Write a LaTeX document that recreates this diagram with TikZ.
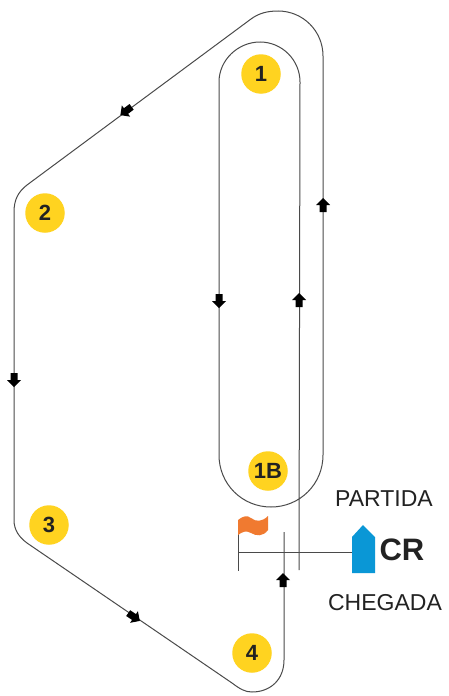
\documentclass[tikz,border=0pt]{standalone}
\usepackage{fontspec}
\setmainfont{Liberation Sans}
\definecolor{markyellow}{HTML}{FFD320}
\definecolor{flagorange}{HTML}{F07A30}
\definecolor{boatblue}{HTML}{0A97D6}
\definecolor{linegray}{HTML}{4A4A4A}
\definecolor{inktext}{HTML}{222222}
\tikzset{
  buoy/.style={circle,fill=markyellow,minimum size=39.5pt,inner sep=0pt,text=inktext,font=\fontsize{22}{22}\selectfont\bfseries},
  course/.style={draw=linegray,line width=1pt},
  label/.style={text=inktext,inner sep=0pt,font=\fontsize{23}{23}\selectfont},
  arrowmark/.pic={\fill[black] (0,-7)--(7,0)--(3.5,0)--(3.5,7)--(-3.5,7)--(-3.5,0)--(-7,0)--cycle;}
}
\begin{document}
\begin{tikzpicture}[x=1pt,y=-1pt]
\useasboundingbox[fill=white] (0,0) rectangle (448,696);
% course
\draw[course] (284,532) -- (284,660) .. controls (284,680) and (270,692) .. (252,692)
  .. controls (245,692) and (240,689) .. (232,683) -- (27,543)
  .. controls (19,537) and (14,530) .. (14,520) -- (14,212)
  .. controls (14,200) and (18,192) .. (27,185) -- (251,19)
  .. controls (259,13) and (268,11) .. (278,11)
  .. controls (303,11) and (323,31) .. (323,56) -- (323,455)
  .. controls (323,484) and (300,507) .. (271,507)
  .. controls (242,507) and (219,484) .. (219,455) -- (219,82)
  .. controls (219,60) and (238,42) .. (260,42)
  .. controls (282,42) and (300,60) .. (300,82) -- (299,570);
% start line
\draw[course] (238,527) -- (238,571);
\draw[course] (238,552) -- (352,552);
% flag
\fill[flagorange] (238,520) .. controls (243,516) and (247,515) .. (251,518)
  .. controls (256,522) and (262,522) .. (268,516)
  -- (268,530) .. controls (263,537) and (256,536) .. (251,533)
  .. controls (246,530) and (242,532) .. (238,535) -- cycle;
% committee boat
\fill[boatblue] (352,537) -- (363,525) -- (375,537) -- (375,573) -- (352,573) -- cycle;
% arrows
\pic[rotate=126.5] at (126,111) {arrowmark};
\pic[rotate=180] at (219,301) {arrowmark};
\pic at (299,300) {arrowmark};
\pic at (323,205) {arrowmark};
\pic[rotate=180] at (14,380) {arrowmark};
\pic[rotate=-124] at (134,617) {arrowmark};
\pic at (283,580) {arrowmark};
% buoys
\node[buoy] (b1) at (261,74) {1};
\node[buoy] (b2) at (45,213) {2};
\node[buoy] (b3) at (49,525) {3};
\node[buoy] (b4) at (252,653) {4};
\node[buoy] (b1B) at (268,471) {1B};
% labels
\node[label] (partida) at (384,499) {PARTIDA};
\node[label] (chegada) at (385,603) {CHEGADA};
\node[label,font=\fontsize{31}{31}\selectfont\bfseries] (cr) at (402,550) {CR};
\end{tikzpicture}
\end{document}
